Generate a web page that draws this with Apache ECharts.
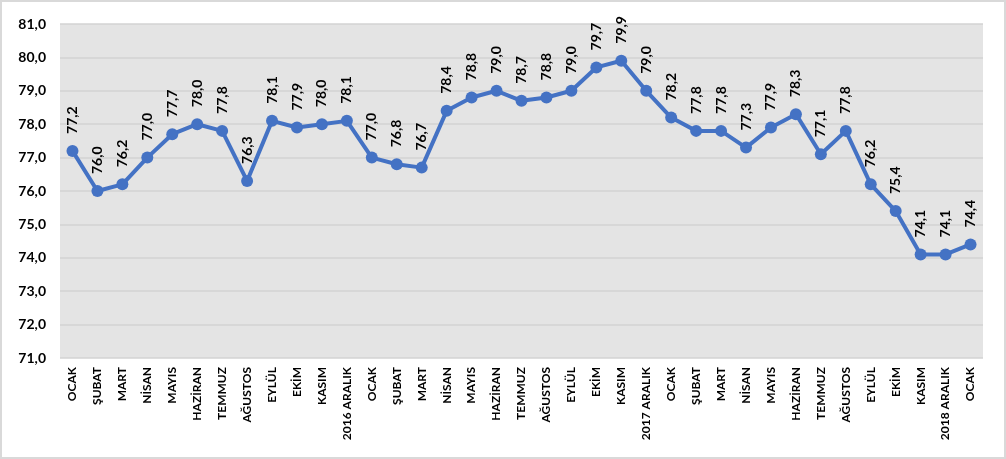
<!DOCTYPE html>
<html><head><meta charset="utf-8">
<script src="https://cdn.jsdelivr.net/npm/echarts@6/dist/echarts.min.js"></script>
<style>
html,body{margin:0;padding:0;background:#fff;}
#frame{position:absolute;left:0;top:0;width:1002px;height:455px;border:2px solid #d9d9d9;background:#fff;}
#c{width:1002px;height:455px;}
</style></head><body>
<div id="frame"><div id="c"></div></div>
<script>
const categories = ["OCAK","ŞUBAT","MART","NİSAN","MAYIS","HAZİRAN","TEMMUZ","AĞUSTOS","EYLÜL","EKİM","KASIM","2016 ARALIK",
"OCAK","ŞUBAT","MART","NİSAN","MAYIS","HAZİRAN","TEMMUZ","AĞUSTOS","EYLÜL","EKİM","KASIM","2017 ARALIK",
"OCAK","ŞUBAT","MART","NİSAN","MAYIS","HAZİRAN","TEMMUZ","AĞUSTOS","EYLÜL","EKİM","KASIM","2018 ARALIK","OCAK"];
const values = [77.2,76.0,76.2,77.0,77.7,78.0,77.8,76.3,78.1,77.9,78.0,78.1,
77.0,76.8,76.7,78.4,78.8,79.0,78.7,78.8,79.0,79.7,79.9,79.0,
78.2,77.8,77.8,77.3,77.9,78.3,77.1,77.8,76.2,75.4,74.1,74.1,74.4];
const yMin = 71, yMax = 81, yStep = 1;
const fmt = v => Number(v).toFixed(1).replace('.', ',');
const chart = echarts.init(document.getElementById('c'));
chart.setOption({
  animation:false,
  grid:{left:58,right:21,top:22,bottom:99,backgroundColor:'#e4e4e4',show:true,borderWidth:0},
  xAxis:{type:'category',data:categories,boundaryGap:true,
    axisLine:{show:false},axisTick:{show:false},
    axisLabel:{rotate:90,interval:0,margin:9,color:'#000',fontFamily:'Lato',fontWeight:'bold',fontSize:12}},
  yAxis:{type:'value',min:yMin,max:yMax,interval:yStep,
    axisLine:{show:false},axisTick:{show:false},
    splitLine:{lineStyle:{color:'#d3d3d3',width:1.5}},
    axisLabel:{formatter:fmt,margin:14,color:'#000',fontFamily:'Lato',fontWeight:'bold',fontSize:14}},
  series:[{type:'line',data:values,symbol:'circle',symbolSize:12,
    lineStyle:{color:'#4472c4',width:4},itemStyle:{color:'#4472c4'},
    label:{show:true,position:'top',distance:11,rotate:90,align:'left',verticalAlign:'middle',
      formatter:p=>fmt(p.value),color:'#000',fontFamily:'Lato',fontWeight:'bold',fontSize:14}}]
});
</script></body></html>
